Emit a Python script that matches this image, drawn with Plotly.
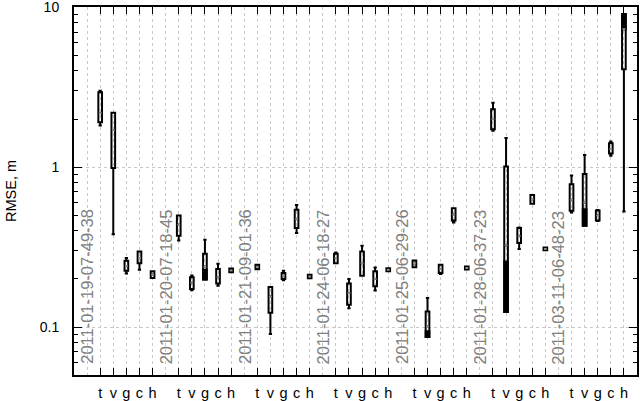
import plotly.graph_objects as go

# ---- data ----
sessions = [
    "2011-01-19-07-49-38", "2011-01-20-07-18-45", "2011-01-21-09-01-36",
    "2011-01-24-06-18-27", "2011-01-25-06-29-26", "2011-01-28-06-37-23",
    "2011-03-11-06-48-23",
]
methods = ["t", "v", "g", "c", "h"]

# per session, per method (t, v, g, c, h)
low = [
    [1.82, 0.381, 0.216, 0.228, 0.203],
    [0.348, 0.17, 0.198, 0.181, 0.22],
    [0.23, 0.0904, 0.196, 0.387, 0.202],
    [0.251, 0.131, 0.209, 0.169, 0.223],
    [0.237, 0.0866, 0.215, 0.45, 0.229],
    [1.69, 0.124, 0.308, 0.59, 0.302],
    [0.52, 0.43, 0.46, 1.18, 0.528],
]
q1 = [
    [1.91, 0.99, 0.225, 0.251, 0.203],
    [0.372, 0.173, 0.198, 0.187, 0.22],
    [0.23, 0.123, 0.2, 0.416, 0.202],
    [0.251, 0.138, 0.209, 0.18, 0.223],
    [0.237, 0.0866, 0.218, 0.464, 0.229],
    [1.73, 0.124, 0.335, 0.59, 0.302],
    [0.533, 0.43, 0.464, 1.22, 4.1],
]
med = [
    [2.18, 1.71, 0.241, 0.27, 0.213],
    [0.436, 0.19, 0.238, 0.205, 0.226],
    [0.237, 0.155, 0.21, 0.473, 0.207],
    [0.27, 0.163, 0.251, 0.2, 0.228],
    [0.25, 0.101, 0.231, 0.505, 0.234],
    [2.0, 0.324, 0.372, 0.63, 0.308],
    [0.625, 0.6, 0.5, 1.3, 7.3],
]
q3 = [
    [2.94, 2.19, 0.26, 0.297, 0.223],
    [0.499, 0.205, 0.287, 0.231, 0.232],
    [0.245, 0.178, 0.218, 0.541, 0.212],
    [0.287, 0.187, 0.297, 0.223, 0.233],
    [0.261, 0.125, 0.245, 0.554, 0.239],
    [2.3, 1.01, 0.416, 0.67, 0.314],
    [0.783, 0.908, 0.535, 1.41, 9.08],
]
high = [
    [3.01, 2.19, 0.27, 0.297, 0.223],
    [0.499, 0.21, 0.351, 0.249, 0.232],
    [0.245, 0.178, 0.225, 0.581, 0.212],
    [0.293, 0.2, 0.322, 0.236, 0.233],
    [0.261, 0.152, 0.245, 0.554, 0.239],
    [2.53, 1.52, 0.42, 0.67, 0.314],
    [0.886, 1.19, 0.54, 1.445, 9.08],
]
# parts of some boxes drawn solid black: (session, method, from, to)
solid = [
    (1, 2, 0.198, 0.228),
    (4, 1, 0.0866, 0.094),
    (5, 1, 0.124, 0.257),
    (6, 1, 0.43, 0.546),
    (6, 4, 7.29, 9.08),
]

y_major = [0.1, 1, 10]
y_minor = [0.06, 0.07, 0.08, 0.09, 0.2, 0.3, 0.4, 0.5, 0.6, 0.7, 0.8, 0.9,
           2, 3, 4, 5, 6, 7, 8, 9]

FONT = "Liberation Sans, Arial, sans-serif"
GRID = "#c8c8c8"
BOX_W = 0.28

# slot layout: one empty slot (label) then the five methods, per session
xs, lo_v, q1_v, md_v, q3_v, hi_v = [], [], [], [], [], []
for s in range(len(sessions)):
    for m in range(len(methods)):
        xs.append(6 * s + 1 + m)
        lo_v.append(low[s][m])
        q1_v.append(q1[s][m])
        md_v.append(med[s][m])
        q3_v.append(q3[s][m])
        hi_v.append(high[s][m])
label_x = [6 * s for s in range(len(sessions))]

fig = go.Figure()

fig.add_trace(go.Box(
    x=xs, q1=q1_v, median=md_v, q3=q3_v, lowerfence=lo_v, upperfence=hi_v,
    width=BOX_W, whiskerwidth=0.9, fillcolor="rgba(0,0,0,0)",
    line=dict(color="black", width=2), boxpoints=False, showlegend=False,
    hoverinfo="skip",
))
# solid black sections
for s, m, a, b in solid:
    fig.add_trace(go.Box(
        x=[6 * s + 1 + m], q1=[a], median=[a], q3=[b], lowerfence=[a], upperfence=[b],
        width=BOX_W, whiskerwidth=0, fillcolor="black",
        line=dict(color="black", width=2), boxpoints=False, showlegend=False,
        hoverinfo="skip",
    ))
# lighter median marks
fig.add_trace(go.Scatter(
    x=xs, y=md_v, mode="markers", showlegend=False, hoverinfo="skip",
    marker=dict(symbol="line-ew", size=2, line=dict(color="#909090", width=2)),
))

# session labels, rotated, in the empty slots
for x, name in zip(label_x, sessions):
    fig.add_annotation(
        x=x, y=-1.245, xref="x", yref="y", text=name, textangle=-90,
        showarrow=False, xanchor="center", yanchor="bottom",
        font=dict(family=FONT, size=16.5, color="#808080"),
    )

fig.update_layout(
    width=640, height=401,
    margin=dict(l=74, r=3, t=7, b=26),
    paper_bgcolor="white", plot_bgcolor="white",
    boxmode="overlay",
    font=dict(family=FONT, size=14, color="black"),
    xaxis=dict(
        range=[-1, 42], tickmode="array", tickvals=xs,
        ticktext=methods * len(sessions), automargin=False,
        ticks="inside", ticklen=7, tickwidth=1, tickcolor="black",
        showgrid=True, gridcolor=GRID, griddash="dot", gridwidth=1,
        showline=True, linecolor="black", linewidth=2, mirror="ticks",
        zeroline=False, tickfont=dict(size=14.5), ticklabelstandoff=4,
    ),
    xaxis2=dict(
        range=[-1, 42], overlaying="x", tickmode="array", tickvals=label_x,
        showticklabels=False, ticks="", showgrid=True, gridcolor=GRID,
        griddash="dot", gridwidth=1, zeroline=False, showline=False,
        automargin=False,
    ),
    yaxis=dict(
        type="log", range=[-1.3, 1.002], tickmode="array", tickvals=y_major,
        ticktext=["0.1", "1", "10"], automargin=False,
        ticklabeloverflow="allow",
        ticks="inside", ticklen=8, tickwidth=1, tickcolor="black",
        minor=dict(tickmode="array", tickvals=y_minor, ticks="inside",
                   ticklen=4, tickcolor="black", showgrid=False),
        showgrid=True, gridcolor=GRID, griddash="dot", gridwidth=1,
        showline=True, linecolor="black", linewidth=2, mirror="ticks",
        zeroline=False, ticklabelstandoff=10,
        title=dict(text="RMSE, m", standoff=20, font=dict(size=14.5)),
        tickfont=dict(size=14),
    ),
)
# invisible trace to activate xaxis2 gridlines
fig.add_trace(go.Scatter(x=[None], y=[None], xaxis="x2", showlegend=False))

# page body has a default margin; drop it so the figure sits at the corner
fig.write_html("out.html", config={"displayModeBar": False},
               post_script="document.body.style.margin='0';")
